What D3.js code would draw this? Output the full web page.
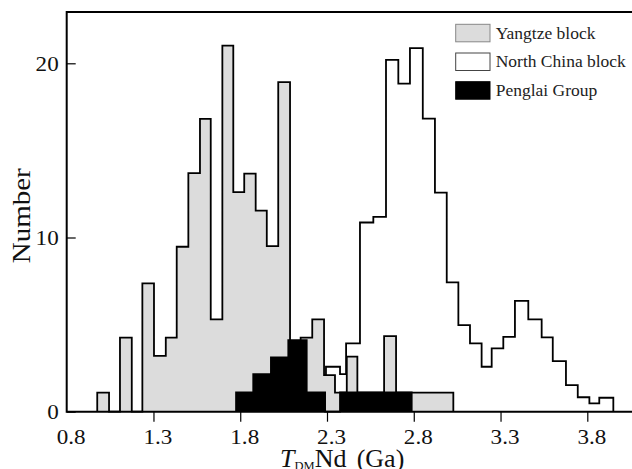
<!DOCTYPE html>
<html>
<head>
<meta charset="utf-8">
<script src="https://cdn.jsdelivr.net/npm/d3@7"></script>
<style>
  html, body { margin: 0; padding: 0; background: #fff; }
  svg { display: block; font-family: 'Liberation Serif', 'Times New Roman', serif; }
</style>
</head>
<body>
<div class="graph"></div>
<script>
// bin edges (Ga) and counts
const yangtzeEdges = [0.976, 1.044, 1.107, 1.175, 1.236, 1.303, 1.371, 1.434, 1.501, 1.568, 1.630, 1.697, 1.760, 1.823, 1.889, 1.953, 2.019, 2.087, 2.148, 2.215, 2.283, 2.346, 2.414, 2.475, 2.629, 2.698, 3.028];
const yangtzeCounts = [1.1, 0, 4.25, 0, 7.37, 3.2, 4.25, 9.47, 13.69, 16.81, 5.3, 21.02, 12.6, 13.67, 11.54, 9.5, 18.92, 4.0, 4.25, 5.3, 2.1, 1.1, 3.16, 1.1, 4.34, 1.1];

const northChinaEdges = [2.294, 2.375, 2.410, 2.490, 2.567, 2.640, 2.711, 2.778, 2.852, 2.922, 2.990, 3.057, 3.124, 3.191, 3.249, 3.316, 3.383, 3.460, 3.537, 3.601, 3.677, 3.745, 3.812, 3.869, 3.950];
const northChinaCounts = [2.58, 2.16, 3.92, 10.86, 11.18, 20.2, 18.83, 20.87, 16.82, 12.58, 7.42, 4.97, 3.92, 2.58, 3.64, 4.3, 6.36, 5.3, 4.27, 2.9, 1.53, 0.83, 0.48, 0.8];

const penglaiEdges = [1.776, 1.875, 1.977, 2.077, 2.183, 2.289, 2.375, 2.788];
const penglaiCounts = [1.11, 2.16, 3.12, 4.11, 1.11, 0, 1.11];

const xTicks = [0.8, 1.3, 1.8, 2.3, 2.8, 3.3, 3.8];
const yTicks = [0, 10, 20];
const legendLabels = ['Yangtze block', 'North China block', 'Penglai Group'];

function displayGraph() {
  const w = 632;
  const h = 469;
  const frame = { left: 66.7, top: 12, right: 632, bottom: 411.7 };

  const xScale = d3.scaleLinear()
    .domain([0.8, 3.8])
    .range([frame.left, 587.3]);
  const yScale = d3.scaleLinear()
    .domain([0, 20])
    .range([frame.bottom, 63.3]);

  const svg = d3.select('.graph')
    .append('svg')
    .attr('width', w)
    .attr('height', h);

  const toSteps = (edges, counts) => [{ x: edges[0], y: 0 }]
    .concat(counts.map((c, i) => ({ x: edges[i], y: c })))
    .concat([{ x: edges[edges.length - 1], y: 0 }]);

  const area = d3.area()
    .curve(d3.curveStepAfter)
    .x((d) => xScale(d.x))
    .y0(yScale(0))
    .y1((d) => yScale(d.y));
  const line = d3.line()
    .curve(d3.curveStepAfter)
    .x((d) => xScale(d.x))
    .y((d) => yScale(d.y));

  const series = [
    { steps: toSteps(northChinaEdges, northChinaCounts), fill: 'none' },
    { steps: toSteps(yangtzeEdges, yangtzeCounts), fill: '#dcdcdc' },
    { steps: toSteps(penglaiEdges, penglaiCounts), fill: '#000' }
  ];

  series.forEach((s) => {
    if (s.fill !== 'none') {
      svg.append('path')
        .attr('d', area(s.steps))
        .attr('fill', s.fill);
    }
    svg.append('path')
      .attr('d', line(s.steps))
      .attr('fill', 'none')
      .attr('stroke', '#000')
      .attr('stroke-width', 1.8)
      .attr('stroke-linejoin', 'miter');
  });

  // x axis
  svg.append('g')
    .attr('transform', `translate(0, ${frame.bottom})`)
    .call(d3.axisBottom(xScale)
      .tickValues(xTicks)
      .tickSize(10)
      .tickPadding(7)
      .tickFormat(d3.format('.1f')))
    .call((g) => g.select('.domain').remove())
    .call((g) => g.selectAll('.tick line')
      .attr('stroke', '#000')
      .attr('stroke-width', 1.2)
      .filter((d) => d === 0.8)
      .remove())
    .call((g) => g.selectAll('.tick text')
      .attr('fill', '#111')
      .attr('font-size', 21)
      .attr('font-family', 'Liberation Serif')
      .attr('x', 4 / 1.1)
      .attr('transform', 'scale(1.1,1)'));

  // y axis
  svg.append('g')
    .attr('transform', `translate(${frame.left}, 0)`)
    .call(d3.axisLeft(yScale)
      .tickValues(yTicks)
      .tickSizeInner(-9)
      .tickSizeOuter(0)
      .tickPadding(8))
    .call((g) => g.select('.domain').remove())
    .call((g) => g.selectAll('.tick line')
      .attr('stroke', '#000')
      .attr('stroke-width', 1.2))
    .call((g) => g.selectAll('.tick text')
      .attr('fill', '#111')
      .attr('font-size', 21)
      .attr('font-family', 'Liberation Serif')
      .attr('x', -8 / 1.1)
      .attr('transform', 'scale(1.1,1)'));

  // frame lines
  svg.append('path')
    .attr('d', `M${frame.right},${frame.top}H${frame.left}V${frame.bottom}H${frame.right}`)
    .attr('fill', 'none')
    .attr('stroke', '#000')
    .attr('stroke-width', 2);

  svg.append('text')
    .attr('transform', 'translate(29.5, 215.8) rotate(-90) scale(1.16,1)')
    .attr('text-anchor', 'middle')
    .attr('font-size', 25)
    .attr('fill', '#111')
    .text('Number');

  const xLabel = svg.append('text')
    .attr('x', 280)
    .attr('y', 466.7)
    .attr('font-size', 26)
    .attr('fill', '#111');
  xLabel.append('tspan')
    .attr('font-style', 'italic')
    .text('T');
  xLabel.append('tspan')
    .attr('font-size', 12.5)
    .attr('dy', 3.5)
    .text('DM');
  xLabel.append('tspan')
    .attr('dy', -3.5)
    .text('Nd');
  xLabel.append('tspan')
    .attr('x', 356.7)
    .text('(Ga)');

  const legendData = [
    { fill: '#dcdcdc', stroke: '#888' },
    { fill: '#fff', stroke: '#444' },
    { fill: '#000', stroke: '#000' }
  ];
  const legend = svg.append('g')
    .attr('class', 'legend');

  legend.selectAll('rect')
    .data(legendData)
    .enter()
    .append('rect')
    .attr('x', 455.7)
    .attr('y', (d, i) => 24.3 + i * 28.7)
    .attr('width', 34.3)
    .attr('height', 17.5)
    .attr('fill', (d) => d.fill)
    .attr('stroke', (d) => d.stroke)
    .attr('stroke-width', 1);

  legend.selectAll('text')
    .data(legendLabels)
    .enter()
    .append('text')
    .attr('transform', (d, i) => `translate(495.7, ${38.5 + i * 28.7}) scale(1.06,1)`)
    .attr('font-size', 16.5)
    .attr('fill', '#222')
    .text((d) => d);
}

displayGraph();
</script>
</body>
</html>
